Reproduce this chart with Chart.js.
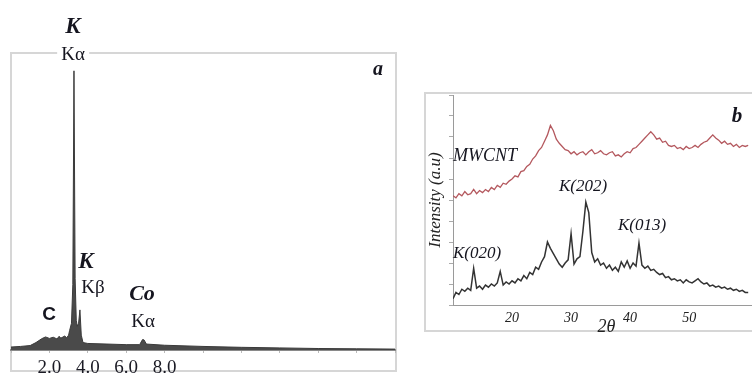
<!DOCTYPE html>
<html>
<head>
<meta charset="utf-8">
<script src="https://cdn.jsdelivr.net/npm/chart.js@4.4.0/dist/chart.umd.min.js"></script>
<style>
  html, body { margin: 0; padding: 0; width: 752px; height: 376px; overflow: hidden; background: #fff; }
  .pane { position: absolute; }
  .frame { position: absolute; border: 2px solid #d6d6d6; box-sizing: border-box; }
  .lbl {
    position: absolute; transform: translate(-50%, -50%); white-space: nowrap; line-height: 1;
    font-family: "Liberation Serif", "DejaVu Serif", serif; color: #15151f;
  }
  .bi { font-weight: bold; font-style: italic; }
  .it { font-style: italic; }
</style>
</head>
<body>

<div class="frame" style="left:10px; top:52px; width:387px; height:320px;"></div>
<div class="frame" style="left:424px; top:92px; width:360px; height:240px;"></div>

<div class="pane" style="left:0; top:0;"><canvas id="grafico-eds" width="400" height="376"></canvas></div>
<div class="pane" style="left:425px; top:93px;"><canvas id="grafico-xrd" width="340" height="245"></canvas></div>

<!-- painel a -->
<div class="lbl bi" style="left:73px; top:25px; font-size:23px;">K</div>
<div class="lbl" style="left:73px; top:53px; font-size:19px; background:#fff; padding:0 4px;">Kα</div>
<div class="lbl bi" style="left:378px; top:68px; font-size:20px;">a</div>
<div class="lbl bi" style="left:86px; top:260px; font-size:23px;">K</div>
<div class="lbl" style="left:93px; top:286px; font-size:19px;">Kβ</div>
<div class="lbl" style="left:49px; top:313px; font-size:19px; font-family:'Liberation Sans', Arial, sans-serif; font-weight:bold;">C</div>
<div class="lbl bi" style="left:142px; top:293px; font-size:22px;">Co</div>
<div class="lbl" style="left:143px; top:320px; font-size:19px;">Kα</div>

<!-- painel b -->
<div class="lbl bi" style="left:737px; top:115px; font-size:21px;">b</div>
<div class="lbl it" style="left:485px; top:155px; font-size:18px;">MWCNT</div>
<div class="lbl it" style="left:583px; top:185px; font-size:17px;">K(202)</div>
<div class="lbl it" style="left:642px; top:224px; font-size:17px;">K(013)</div>
<div class="lbl it" style="left:477px; top:252px; font-size:17px;">K(020)</div>

<script>
// EDS (painel a)
const edsKeV = [0.0, 0.5, 1.0, 1.3, 1.6, 1.8, 2.0, 2.2, 2.4, 2.5, 2.6, 2.8, 2.9, 3.0, 3.05, 3.15, 3.22, 3.28, 3.34, 3.4,
  3.45, 3.52, 3.59, 3.66, 3.75, 4.0, 5.0, 6.0, 6.7, 6.85, 6.93, 7.05, 8.0, 10, 12, 14, 16, 18, 20];
const edsCounts = [1.0, 1.2, 1.5, 2.5, 3.8, 4.4, 3.9, 4.3, 3.7, 4.6, 4.0, 4.7, 4.1, 5.0, 6.5, 9, 22, 94, 24, 10,
  8, 9, 13.5, 5, 2.5, 2.2, 2.0, 1.8, 1.8, 3.5, 3.4, 2.0, 1.6, 1.2, 0.9, 0.7, 0.5, 0.4, 0.3];
const edsTickLabels = [2, 4, 6, 8];

// XRD (painel b), 2θ de 10 a 60 a cada 0.5
const xrdStart = 10;
const xrdStep = 0.5;
const mwcnt = [
  52, 51, 53, 52, 54, 52.5, 53, 55, 53, 54.5,
  53.5, 55, 54, 56, 55, 57, 56, 58, 57.5, 59,
  60, 61.5, 61, 63.5, 64, 66, 67, 69.5, 71, 73.5,
  75, 78, 81, 85.5, 83, 79, 77, 75.5, 74, 73.5,
  72, 73, 71.5, 72.5, 73, 71.5, 73, 74, 72, 72.5,
  73.5, 72, 71.5, 72.5, 73, 71, 71.5, 70.5, 72, 73,
  72.5, 74.5, 75, 76.5, 78, 79.5, 81, 82.5, 81, 79,
  79.5, 77.5, 78, 76, 75.5, 76, 74.5, 75, 74, 75.5,
  74.5, 75, 76, 75, 76.5, 77.5, 78, 79.5, 81, 79.5,
  78.5, 77, 78, 76.5, 77, 75.5, 76.5, 75, 76, 75.5,
  76
];
const amostraK = [
  3, 6, 5, 7.5, 6.5, 8, 7, 17.5, 8, 9,
  7.5, 9.5, 8.5, 10, 9, 10.5, 16, 9.5, 11, 10,
  11.5, 10.5, 12.5, 11.5, 14, 12.5, 15.5, 14.5, 18, 17,
  20.5, 23, 30, 27, 24.5, 22, 19.5, 18, 20, 21.5,
  34, 19.5, 22, 23, 35, 49, 44, 25, 20.5, 22,
  19, 20, 17.5, 19, 16.5, 18, 16, 20.5, 18, 21,
  17.5, 20, 18.5, 29.5, 19, 17.5, 18.5, 16.5, 17, 15.5,
  14.5, 15, 13, 13.5, 12, 12.5, 11.5, 12, 10.5, 12,
  11, 10.5, 11.5, 12.5, 11, 10, 10.5, 9, 9.5, 8.5,
  9, 8, 8.5, 7.5, 8, 7, 7.5, 6.5, 7, 6,
  6
];
const xrdTickLabels = [20, 30, 40, 50];

const serif = '"Liberation Serif", "DejaVu Serif", serif';

function pontos(valores) {
  return valores.map(function (v, i) { return { x: xrdStart + i * xrdStep, y: v }; });
}

const ctxEds = document.getElementById('grafico-eds');
new Chart(ctxEds, {
  type: 'line',
  data: {
    datasets: [{
      data: edsKeV.map(function (k, i) { return { x: k, y: edsCounts[i] }; }),
      borderColor: '#3a3a3a',
      backgroundColor: '#4a4a4a',
      borderWidth: 1,
      pointRadius: 0,
      fill: 'origin',
      tension: 0
    }]
  },
  options: {
    responsive: false,
    animation: false,
    layout: { padding: { left: 11, right: 5, top: 53, bottom: 0 } },
    plugins: { legend: { display: false }, tooltip: { enabled: false } },
    scales: {
      x: {
        type: 'linear', min: 0, max: 20,
        afterFit: function (s) { s.height = 26; },
        border: { color: '#8a8a8a', width: 2 },
        grid: { drawOnChartArea: false, tickLength: 3, color: '#bbb' },
        ticks: {
          stepSize: 2, autoSkip: false, maxRotation: 0, padding: 4,
          color: '#1a1a24', font: { family: serif, size: 19 },
          callback: function (v) { return edsTickLabels.includes(v) ? v.toFixed(1) : ''; }
        }
      },
      y: { display: false, min: 0, max: 100 }
    }
  }
});

const ctxXrd = document.getElementById('grafico-xrd');
new Chart(ctxXrd, {
  type: 'line',
  data: {
    datasets: [
      { label: 'MWCNT', data: pontos(mwcnt), borderColor: '#b4585e', borderWidth: 1.3, pointRadius: 0, tension: 0 },
      { label: 'K', data: pontos(amostraK), borderColor: '#333', borderWidth: 1.5, pointRadius: 0, tension: 0 }
    ]
  },
  options: {
    responsive: false,
    animation: false,
    layout: { padding: { left: 0, right: 0, top: 2, bottom: 0 } },
    plugins: { legend: { display: false }, tooltip: { enabled: false } },
    scales: {
      x: {
        type: 'linear', min: 10, max: 62,
        afterFit: function (s) { s.height = 33; },
        border: { color: '#9a9a9a', width: 1, dash: [2, 2] },
        grid: { drawOnChartArea: false, drawTicks: false },
        ticks: {
          stepSize: 10, autoSkip: false, maxRotation: 0, padding: 5,
          color: '#222', font: { family: serif, size: 14, style: 'italic' },
          callback: function (v) { return xrdTickLabels.includes(v) ? String(v) : ''; }
        },
        title: { display: true, text: '2θ', color: '#222', padding: 0, font: { family: serif, size: 18, style: 'italic' } }
      },
      y: {
        min: 0, max: 100,
        afterFit: function (s) { s.width = 28; },
        border: { color: '#9a9a9a', width: 1 },
        grid: { drawOnChartArea: false, tickLength: 4, color: '#aaa' },
        ticks: { display: false, stepSize: 10 },
        title: { display: true, text: 'Intensity (a.u)', color: '#222', padding: 0, font: { family: serif, size: 17, style: 'italic' } }
      }
    }
  }
});
</script>
</body>
</html>
